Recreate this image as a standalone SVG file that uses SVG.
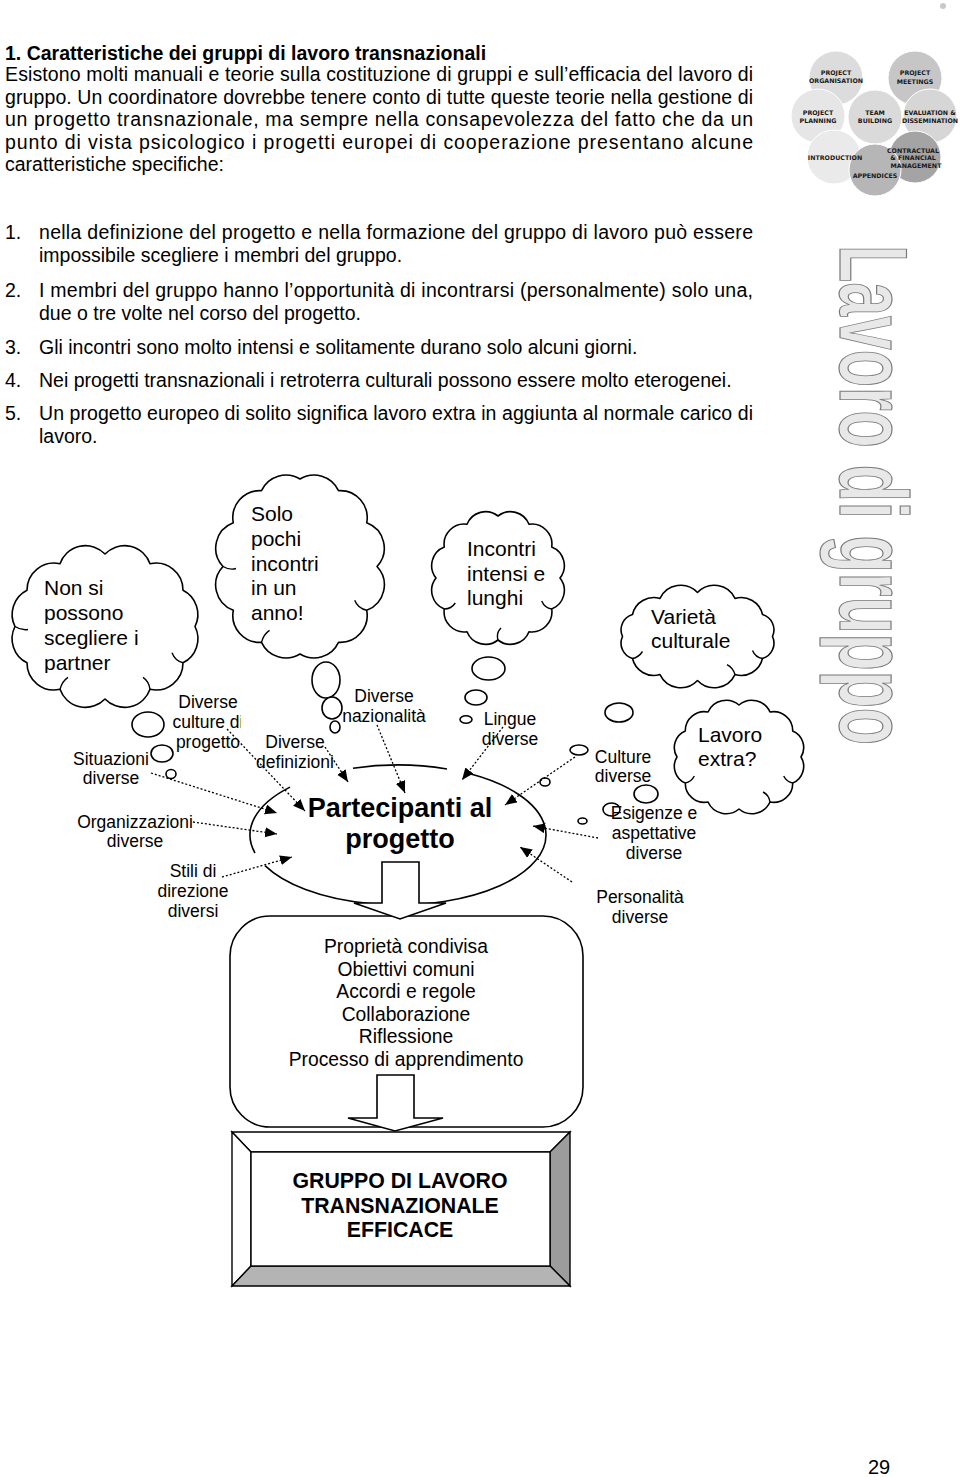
<svg xmlns="http://www.w3.org/2000/svg" width="960" height="1477" viewBox="0 0 960 1477">
<defs>
<style>
.t{font-family:"Liberation Sans",Arial,sans-serif;fill:#000}
.b{font-size:19.5px}
.h{font-size:19.5px;font-weight:bold}
.lbl{font-size:17.5px;text-anchor:middle}
.cl{font-size:21px}
.lg{font-family:"DejaVu Sans",Verdana,sans-serif;font-weight:bold;font-size:6.3px;fill:#1a1a1a;text-anchor:middle}
.cloud{fill:#fff;stroke:#000;stroke-width:1.6;stroke-linejoin:round}
.inner{fill:none;stroke:#000;stroke-width:1.4}
.bub{fill:#fff;stroke:#000;stroke-width:1.6}
.ln{fill:none;stroke:#000;stroke-width:1.6}
.shape{fill:#fff;stroke:#000;stroke-width:1.6;stroke-linejoin:miter}
.dot{fill:none;stroke:#000;stroke-width:1.3;stroke-dasharray:2 2;marker-end:url(#ah)}
.lc{stroke:#fff;stroke-width:1}
</style>
<marker id="ah" markerUnits="userSpaceOnUse" markerWidth="13" markerHeight="11" refX="12" refY="5" orient="auto">
<path d="M0,0 L12,5 L0,10 Z" fill="#000"/>
</marker>
<clipPath id="clipC1"><rect x="0" y="540" width="220" height="133"/></clipPath>
<clipPath id="clipCult"><rect x="150" y="680" width="91" height="80"/></clipPath>
</defs>
<rect width="960" height="1477" fill="#fff"/>

<!-- page decoration -->
<circle cx="943" cy="6" r="3" fill="#c8c8c8"/>

<!-- text block -->
<g id="header">
<text class="t h" x="5" y="60">1. Caratteristiche dei gruppi di lavoro transnazionali</text>
</g>
<g id="intro" class="t b">
<text x="5" y="81" textLength="748" lengthAdjust="spacing">Esistono molti manuali e teorie sulla costituzione di gruppi e sull’efficacia del lavoro di</text>
<text x="5" y="104" textLength="748" lengthAdjust="spacing">gruppo. Un coordinatore dovrebbe tenere conto di tutte queste teorie nella gestione di</text>
<text x="5" y="126" textLength="748" lengthAdjust="spacing">un progetto transnazionale, ma sempre nella consapevolezza del fatto che da un</text>
<text x="5" y="149" textLength="748" lengthAdjust="spacing">punto di vista psicologico i progetti europei di cooperazione presentano alcune</text>
<text x="5" y="171">caratteristiche specifiche:</text>
</g>
<g id="list" class="t b">
<text x="5" y="239">1.</text>
<text x="39" y="239" textLength="714" lengthAdjust="spacing">nella definizione del progetto e nella formazione del gruppo di lavoro può essere</text>
<text x="39" y="262">impossibile scegliere i membri del gruppo.</text>
<text x="5" y="297">2.</text>
<text x="39" y="297" textLength="714" lengthAdjust="spacing">I membri del gruppo hanno l’opportunità di incontrarsi (personalmente) solo una,</text>
<text x="39" y="320">due o tre volte nel corso del progetto.</text>
<text x="5" y="354">3.</text>
<text x="39" y="354">Gli incontri sono molto intensi e solitamente durano solo alcuni giorni.</text>
<text x="5" y="387">4.</text>
<text x="39" y="387">Nei progetti transnazionali i retroterra culturali possono essere molto eterogenei.</text>
<text x="5" y="420">5.</text>
<text x="39" y="420" textLength="714" lengthAdjust="spacing">Un progetto europeo di solito significa lavoro extra in aggiunta al normale carico di</text>
<text x="39" y="443">lavoro.</text>
</g>

<!-- logo -->
<g id="logo">
<circle class="lc" cx="836" cy="78" r="27" fill="#dcdcdc"/>
<circle class="lc" cx="915" cy="78" r="27" fill="#c6c6c6"/>
<circle class="lc" cx="818" cy="116" r="27" fill="#e6e6e6"/>
<circle class="lc" cx="930" cy="116" r="27" fill="#d6d6d6"/>
<circle class="lc" cx="875" cy="117" r="27" fill="#dadada"/>
<circle class="lc" cx="834" cy="157" r="27" fill="#eaeaea"/>
<circle class="lc" cx="915" cy="157" r="26" fill="#a4a4a4"/>
<circle class="lc" cx="875" cy="170" r="26" fill="#b6b6b6"/>
<text class="lg" x="836" y="75">PROJECT</text>
<text class="lg" x="836" y="83">ORGANISATION</text>
<text class="lg" x="915" y="75">PROJECT</text>
<text class="lg" x="915" y="84">MEETINGS</text>
<text class="lg" x="818" y="115">PROJECT</text>
<text class="lg" x="818" y="123">PLANNING</text>
<text class="lg" x="875" y="115">TEAM</text>
<text class="lg" x="875" y="123">BUILDING</text>
<text class="lg" x="930" y="115">EVALUATION &amp;</text>
<text class="lg" x="930" y="123">DISSEMINATION</text>
<text class="lg" x="835" y="160">INTRODUCTION</text>
<text class="lg" x="913" y="153">CONTRACTUAL</text>
<text class="lg" x="913" y="160">&amp; FINANCIAL</text>
<text class="lg" x="916" y="168">MANAGEMENT</text>
<text class="lg" x="875" y="178">APPENDICES</text>
</g>

<!-- vertical title -->
<g id="vtitle" transform="translate(840,245) rotate(90)">
<text x="0" y="0" textLength="500" lengthAdjust="spacingAndGlyphs" style="font-family:'Liberation Sans',Arial,sans-serif;font-weight:bold;font-size:96px;fill:#e8e8e8;stroke:#7a7a7a;stroke-width:1.2">Lavoro di gruppo</text>
</g>

<!-- clouds -->
<g id="cloud-partner">
<path class="cloud" d="M195,626.5 A27,27 0 0 1 183,662.8 A27,27 0 0 1 150,689.3 A27,27 0 0 1 105,699 A27,27 0 0 1 60,689.3 A27,27 0 0 1 27,662.8 A27,27 0 0 1 15,626.5 A27,27 0 0 1 27,590.3 A27,27 0 0 1 60,563.7 A27,27 0 0 1 105,554 A27,27 0 0 1 150,563.7 A27,27 0 0 1 183,590.3 A27,27 0 0 1 195,626.5 Z"/>
<path class="inner" d="M15,626.5 q6,4 13,3 M183,662.8 q-8,-2 -11,-10 M60,689.3 q2,-8 8,-12 M150,689.3 q-1,-8 -7,-12"/>
<g clip-path="url(#clipC1)" class="t cl">
<text x="44" y="595">Non si</text>
<text x="44" y="620">possono</text>
<text x="44" y="645">scegliere i</text>
<text x="44" y="670">partner</text>
</g>
</g>

<g id="cloud-solo">
<path class="cloud" d="M377,566.5 A27,27 0 0 1 366.7,610.3 A27,27 0 0 1 338.5,642.3 A27,27 0 0 1 300,654 A27,27 0 0 1 261.5,642.3 A27,27 0 0 1 233.3,610.3 A27,27 0 0 1 223,566.5 A27,27 0 0 1 233.3,522.8 A27,27 0 0 1 261.5,490.7 A27,27 0 0 1 300,479 A27,27 0 0 1 338.5,490.7 A27,27 0 0 1 366.7,522.8 A27,27 0 0 1 377,566.5 Z"/>
<path class="inner" d="M366.7,610.3 q-9,-2 -12,-10 M223,566.5 q7,4 13,2 M261.5,642.3 q2,-8 8,-12"/>
<g class="t cl">
<text x="251" y="521">Solo</text>
<text x="251" y="546">pochi</text>
<text x="251" y="571">incontri</text>
<text x="251" y="595">in un</text>
<text x="251" y="620">anno!</text>
</g>
</g>

<g id="cloud-incontri">
<path class="cloud" d="M560,578 A20,20 0 0 1 551.7,609 A20,20 0 0 1 529,631.7 A20,20 0 0 1 498,640 A20,20 0 0 1 467,631.7 A20,20 0 0 1 444.3,609 A20,20 0 0 1 436,578 A20,20 0 0 1 444.3,547 A20,20 0 0 1 467,524.3 A20,20 0 0 1 498,516 A20,20 0 0 1 529,524.3 A20,20 0 0 1 551.7,547 A20,20 0 0 1 560,578 Z"/>
<path class="inner" d="M444.3,609 q7,0 11,-6 M551.7,609 q-7,-1 -10,-8 M498,640 q-2,-7 3,-12"/>
<g class="t cl">
<text x="467" y="556">Incontri</text>
<text x="467" y="581">intensi e</text>
<text x="467" y="605">lunghi</text>
</g>
</g>

<g id="cloud-varieta">
<path class="cloud" d="M772.5,636.5 A16,16 0 0 1 762.5,658.5 A22,22 0 0 1 735,674.6 A23,23 0 0 1 697.5,680.5 A23,23 0 0 1 660,674.6 A22,22 0 0 1 632.5,658.5 A16,16 0 0 1 622.5,636.5 A16,16 0 0 1 632.5,614.5 A22,22 0 0 1 660,598.4 A23,23 0 0 1 697.5,592.5 A23,23 0 0 1 735,598.4 A22,22 0 0 1 762.5,614.5 A16,16 0 0 1 772.5,636.5 Z"/>
<path class="inner" d="M632.5,658.5 q6,-1 10,-7 M762.5,658.5 q-7,-1 -10,-8 M735,674.6 q-2,-7 -8,-10"/>
<g class="t cl">
<text x="651" y="624">Varietà</text>
<text x="651" y="648">culturale</text>
</g>
</g>

<g id="cloud-lavoro">
<path class="cloud" d="M801,757 A18,18 0 0 1 792.7,783 A19,19 0 0 1 770,802 A20,20 0 0 1 739,809 A20,20 0 0 1 708,802 A19,19 0 0 1 685.3,783 A18,18 0 0 1 677,757 A18,18 0 0 1 685.3,731 A19,19 0 0 1 708,712 A20,20 0 0 1 739,705 A20,20 0 0 1 770,712 A19,19 0 0 1 792.7,731 A18,18 0 0 1 801,757 Z"/>
<path class="inner" d="M685.3,783 q6,-1 9,-7 M792.7,783 q-6,-1 -9,-7 M770,802 q-1,-7 -7,-10"/>
<g class="t cl">
<text x="698" y="742">Lavoro</text>
<text x="698" y="766">extra?</text>
</g>
</g>

<!-- thought bubbles -->
<g id="bubbles">
<ellipse class="bub" cx="148" cy="724.5" rx="16" ry="12.5"/>
<ellipse class="bub" cx="162" cy="753.5" rx="11" ry="8.5"/>
<ellipse class="bub" cx="171" cy="774" rx="5" ry="4.5"/>
<ellipse class="bub" cx="326" cy="680" rx="14" ry="18"/>
<ellipse class="bub" cx="332" cy="708" rx="10" ry="11"/>
<ellipse class="bub" cx="335" cy="727" rx="5" ry="6"/>
<ellipse class="bub" cx="488.5" cy="668.5" rx="16.5" ry="11.5"/>
<ellipse class="bub" cx="476" cy="697.5" rx="11" ry="7.5"/>
<ellipse class="bub" cx="466" cy="719.5" rx="6" ry="3.7"/>
<ellipse class="bub" cx="619" cy="712.5" rx="14" ry="9.5"/>
<ellipse class="bub" cx="579" cy="750" rx="9" ry="5"/>
<ellipse class="bub" cx="545" cy="782" rx="5" ry="4"/>
<ellipse class="bub" cx="646" cy="794" rx="12" ry="9"/>
<ellipse class="bub" cx="611.5" cy="809.5" rx="8.5" ry="6.5"/>
<ellipse class="bub" cx="582.5" cy="821" rx="4.5" ry="3"/>
</g>

<!-- central ellipse -->
<g id="partecipanti">
<path class="ln" d="M353,768.3 A148,70 0 0 1 447,769"/>
<path class="ln" d="M470,773.8 A148,70 0 1 1 265,865.7"/>
<path class="ln" d="M255,853 A148,70 0 0 1 290,787.1"/>
<g style="font-family:'Liberation Sans',Arial,sans-serif;font-weight:bold;font-size:27px;text-anchor:middle">
<text x="400" y="817">Partecipanti al</text>
<text x="400" y="848">progetto</text>
</g>
</g>

<!-- labels -->
<g id="labels" class="t lbl">
<g clip-path="url(#clipCult)">
<text x="208" y="708">Diverse</text>
<text x="208" y="728">culture di</text>
<text x="208" y="748">progetto</text>
</g>
<text x="111" y="765">Situazioni</text>
<text x="111" y="784">diverse</text>
<text x="135" y="828">Organizzazioni</text>
<text x="135" y="847">diverse</text>
<text x="193" y="877">Stili di</text>
<text x="193" y="897">direzione</text>
<text x="193" y="917">diversi</text>
<text x="295" y="748">Diverse</text>
<text x="295" y="768">definizioni</text>
<text x="384" y="702">Diverse</text>
<text x="384" y="722">nazionalità</text>
<text x="510" y="725">Lingue</text>
<text x="510" y="745">diverse</text>
<text x="623" y="763">Culture</text>
<text x="623" y="782">diverse</text>
<text x="654" y="819">Esigenze e</text>
<text x="654" y="839">aspettative</text>
<text x="654" y="859">diverse</text>
<text x="640" y="903">Personalità</text>
<text x="640" y="923">diverse</text>
</g>

<!-- connectors -->
<g id="connectors">
<path class="dot" d="M227,729 L305,811"/>
<path class="dot" d="M151,773 L277,813"/>
<path class="dot" d="M193,822 L277,834"/>
<path class="dot" d="M222,877 L292,857"/>
<path class="dot" d="M325,747 L348,782"/>
<path class="dot" d="M377,725 L405,793"/>
<path class="dot" d="M503,727 L462,780"/>
<path class="dot" d="M575,757 L505,805"/>
<path class="dot" d="M598,838 L533,826"/>
<path class="dot" d="M572,882 L520,847"/>
</g>

<!-- result box -->
<g id="qualita">
<rect class="shape" x="230" y="916" width="353" height="211" rx="40" ry="40"/>
<g class="t" style="font-size:19.3px;text-anchor:middle">
<text x="406" y="953">Proprietà condivisa</text>
<text x="406" y="975.5">Obiettivi comuni</text>
<text x="406" y="998">Accordi e regole</text>
<text x="406" y="1020.5">Collaborazione</text>
<text x="406" y="1043">Riflessione</text>
<text x="406" y="1065.5">Processo di apprendimento</text>
</g>
</g>

<g id="arrow1">
<path class="shape" d="M382,862 H419 V903 H446 L400,919 L354,903 H382 Z"/>
</g>
<g id="arrow2">
<path class="shape" d="M377,1075 H414 V1118 H443 L395,1131 L348,1118 H377 Z"/>
</g>

<!-- final frame -->
<g id="gruppo">
<polygon points="232,1132 570,1132 550,1152 251,1152" fill="#fff" stroke="#000" stroke-width="1.4"/>
<polygon points="232,1132 251,1152 251,1266 232,1286" fill="#fff" stroke="#000" stroke-width="1.4"/>
<polygon points="570,1132 570,1286 550,1266 550,1152" fill="#9c9c9c" stroke="#000" stroke-width="1.4"/>
<polygon points="232,1286 570,1286 550,1266 251,1266" fill="#b4b4b4" stroke="#000" stroke-width="1.4"/>
<rect x="251" y="1152" width="299" height="114" fill="#fff" stroke="#000" stroke-width="1.4"/>
<g class="t" style="font-size:21.3px;font-weight:bold;text-anchor:middle">
<text x="400" y="1188">GRUPPO DI LAVORO</text>
<text x="400" y="1213">TRANSNAZIONALE</text>
<text x="400" y="1237">EFFICACE</text>
</g>
</g>

<g id="pagenum">
<text class="t" x="868" y="1474" style="font-size:20px">29</text>
</g>
</svg>
